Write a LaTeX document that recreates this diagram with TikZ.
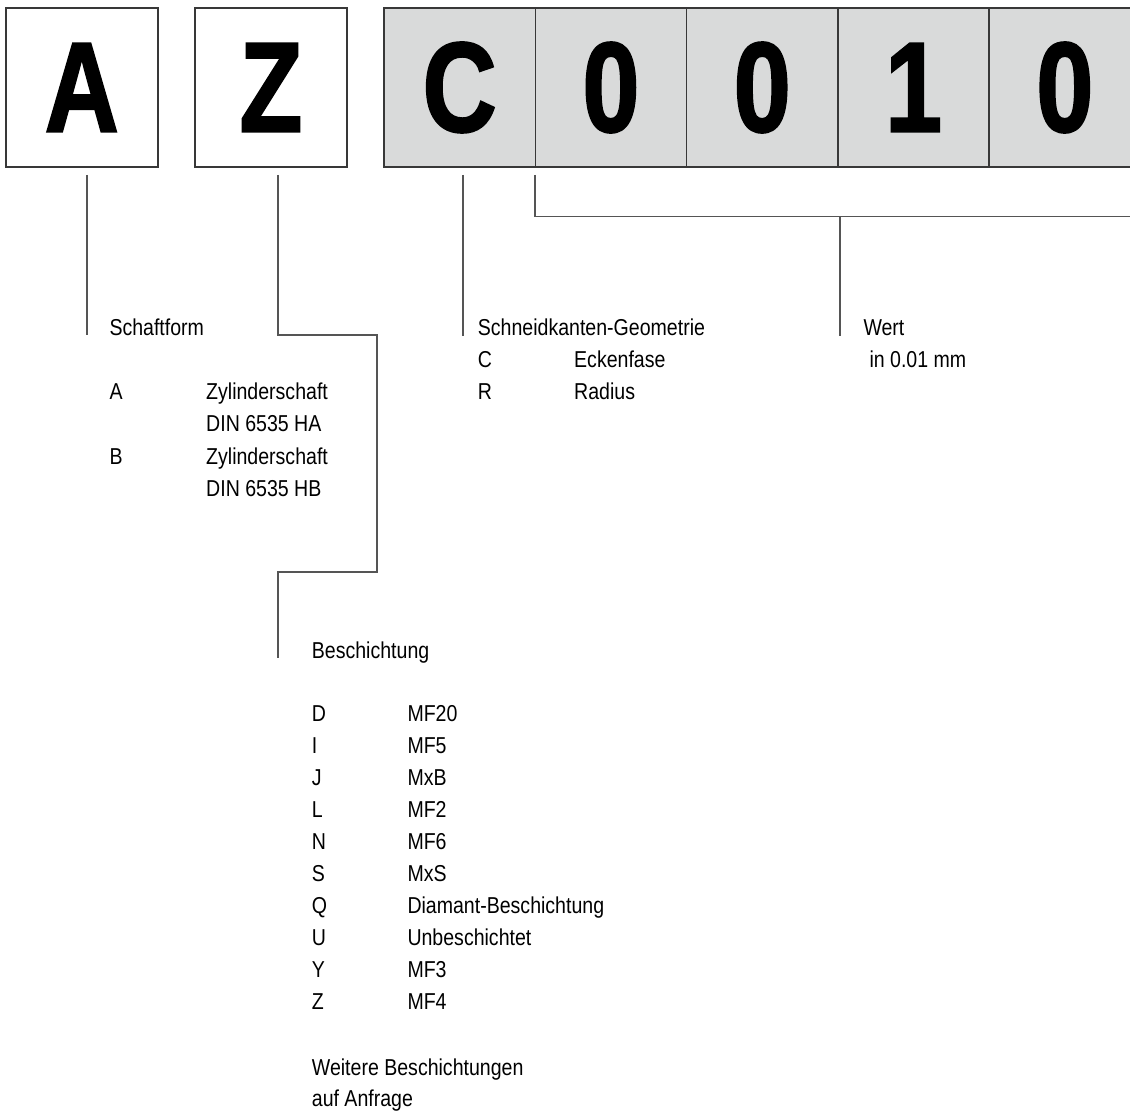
\documentclass[tikz,border=0pt]{standalone}
\usepackage{fontspec}
\setmainfont{Liberation Sans}[FakeStretch=0.85]
\newfontfamily\bigfont{Liberation Sans Bold}[FakeStretch=0.8,FakeBold=1.6]
\usepackage{tikz}
\usetikzlibrary{positioning,calc}
\definecolor{boxline}{HTML}{383838}
\definecolor{boxgrey}{HTML}{D9DADA}
\definecolor{leadgrey}{HTML}{555555}

\begin{document}
\begin{tikzpicture}[
  x=1pt, y=-1pt,
  codebox/.style={draw=boxline, line width=1.5pt, minimum width=152pt, minimum height=158.7pt, inner sep=0pt, font=\bigfont\fontsize{128}{128}\selectfont},
  greybox/.style={codebox, fill=boxgrey, minimum width=151.3pt},
  legtext/.style={anchor=base west, inner sep=0pt, font=\fontsize{23}{32}\selectfont},
  leader/.style={draw=leadgrey, line width=1.2pt}
]
  \useasboundingbox (0,0) rectangle (1130,1113);
  \clip (0,0) rectangle (1130,1113);
  % code boxes
  \node[codebox] (bA) at (81.75,87.5) {A};
  \node[codebox] (bZ) at (271,87.5) {Z};
  \foreach \ch [count=\i from 0] in {C,0,0,1,0}
    \node[greybox] (g\i) at ({459.65+151.3*\i},87.5) {\ch};

  % Schaftform
  \node[legtext] (tSchaft) at (109.3,335) {Schaftform};
  \node[legtext] (kA) at (109.3,399) {A};
  \node[legtext] (vA) at (206,399) {Zylinderschaft};
  \node[legtext] (vA2) at (206,431.7) {DIN 6535 HA};
  \node[legtext] (kB) at (109.3,464) {B};
  \node[legtext] (vB) at (206,464) {Zylinderschaft};
  \node[legtext] (vB2) at (206,496) {DIN 6535 HB};

  % Schneidkanten-Geometrie
  \node[legtext] (tGeo) at (477.7,335.5) {Schneidkanten-Geometrie};
  \node[legtext] (kC) at (477.7,367.3) {C};
  \node[legtext] (vC) at (574,367.3) {Eckenfase};
  \node[legtext] (kR) at (477.7,399.3) {R};
  \node[legtext] (vR) at (574,399.3) {Radius};

  % Wert
  \node[legtext] (tWert) at (863.3,335.5) {Wert};
  \node[legtext] (vWert) at (869.3,367.3) {in 0.01 mm};

  % Beschichtung
  \node[legtext] (tBesch) at (311.7,658) {Beschichtung};
  \foreach \cc/\cv [count=\i from 0] in {D/MF20, I/MF5, J/MxB, L/MF2, N/MF6, S/MxS, Q/Diamant-Beschichtung, U/Unbeschichtet, Y/MF3, Z/MF4} {
    \node[legtext] (k\i) at (311.7,{721.7+32*\i}) {\cc};
    \node[legtext] (v\i) at (407.3,{721.7+32*\i}) {\cv};
  }
  \node[legtext] (tMore) at (311.7,1075) {Weitere Beschichtungen};
  \node[legtext] (tMore2) at (311.7,1106.7) {auf Anfrage};

  % leader lines
  \coordinate (lA) at (87,175);
  \coordinate (lZ) at (278,175);
  \coordinate (zbend) at (377,335);
  \coordinate (zback) at (278,572);
  \coordinate (lC) at (463,175);
  \coordinate (brL) at (535,175);
  \coordinate (brM) at (840,216.7);
  \coordinate (brR) at (1141,175);
  \draw[leader] (lA) -- (lA |- tSchaft.base);
  \draw[leader] (lZ) |- (zbend) |- (zback) -- (zback |- tBesch.base);
  \draw[leader] (lC) -- (lC |- tGeo.base);
  \draw[leader] (brL) |- (brM) -| (brR);
  \draw[leader] (brM) -- (brM |- tWert.base);
\end{tikzpicture}
\end{document}
